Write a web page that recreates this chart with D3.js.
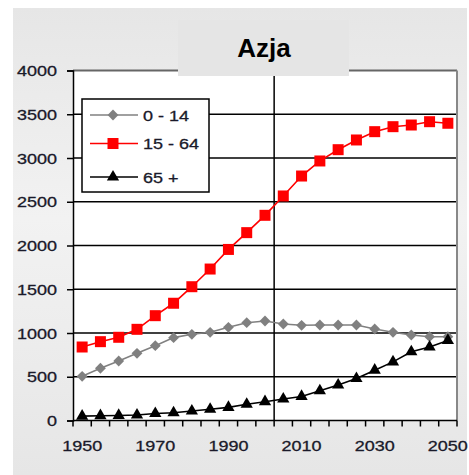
<!DOCTYPE html>
<html>
<head>
<meta charset="utf-8">
<script src="https://cdn.jsdelivr.net/npm/d3@7/dist/d3.min.js"></script>
<style>
  html, body { margin: 0; padding: 0; background: #ffffff; }
  svg { display: block; }
  text { font-family: "Liberation Sans", Arial, sans-serif; }
</style>
</head>
<body>
<script>
// Asia population by age group (millions), 1950–2050
const years = [1950,1955,1960,1965,1970,1975,1980,1985,1990,1995,2000,
               2005,2010,2015,2020,2025,2030,2035,2040,2045,2050];
const age0to14  = [505,597,680,768,855,947,985,1008,1065,1118,1137,
                   1103,1088,1091,1091,1091,1046,1008,977,958,958];
const age15to64 = [840,901,951,1042,1198,1340,1529,1731,1955,2147,2345,
                   2566,2794,2966,3095,3206,3301,3358,3377,3415,3397];
const age65plus = [50,55,58,62,80,88,108,128,150,185,215,
                   245,275,340,405,480,575,670,785,840,915];
const yTicks = [0,500,1000,1500,2000,2500,3000,3500,4000];
const xLabelYears = [1950,1970,1990,2010,2030,2050];
const seriesNames = ["0 - 14","15 - 64","65 +"];
const title = "Azja";

const W = 469, H = 475;
const plot = {left: 73, right: 457, top: 70.5, bottom: 420.5};
const stretch = 1.2;

const svg = d3.select("body").append("svg").attr("width", W).attr("height", H);

// Panel background with a soft vertical gradient
const defs = svg.append("defs");
const grad = defs.append("linearGradient").attr("id","panelGrad")
  .attr("x1",0).attr("y1",0).attr("x2",0).attr("y2",1);
grad.append("stop").attr("offset","0%").attr("stop-color","#e6e6e6");
grad.append("stop").attr("offset","45%").attr("stop-color","#f2f2f2");
grad.append("stop").attr("offset","100%").attr("stop-color","#e6e6e6");
svg.append("rect").attr("x",13).attr("y",8).attr("width",454).attr("height",467)
  .attr("fill","url(#panelGrad)");

const x = d3.scaleBand().domain(years).range([plot.left, plot.right]).paddingInner(0).paddingOuter(0);
const cx = d => x(d) + x.bandwidth() / 2;
const y = d3.scaleLinear().domain([0, 4000]).range([plot.bottom, plot.top]);

// Plot area
svg.append("rect").attr("x",plot.left).attr("y",plot.top)
  .attr("width",plot.right-plot.left).attr("height",plot.bottom-plot.top).attr("fill","#ffffff");

// Horizontal gridlines
svg.append("g").selectAll("line").data(yTicks.filter(v => v > 0 && v < 4000)).join("line")
  .attr("x1",plot.left).attr("x2",plot.right)
  .attr("y1",d => y(d)).attr("y2",d => y(d))
  .attr("stroke","#000").attr("stroke-width",1.5);

// Plot border (top and right)
svg.append("line").attr("x1",plot.left).attr("x2",plot.right).attr("y1",plot.top).attr("y2",plot.top)
  .attr("stroke","#666").attr("stroke-width",2);
svg.append("line").attr("x1",plot.right).attr("x2",plot.right).attr("y1",plot.top).attr("y2",plot.bottom)
  .attr("stroke","#888").attr("stroke-width",2);

// Vertical divider between 2000 and 2005
svg.append("line").attr("x1",x(2005)).attr("x2",x(2005)).attr("y1",plot.top).attr("y2",plot.bottom)
  .attr("stroke","#000").attr("stroke-width",1.5);

// Y axis
const yAxis = d3.axisLeft(y).tickValues(yTicks).tickSize(6).tickFormat(d3.format("d"));
const gy = svg.append("g").attr("transform",`translate(${plot.left},0)`).call(yAxis);
gy.select(".domain").attr("stroke","#000").attr("stroke-width",1.5);
gy.selectAll(".tick line").attr("stroke","#000").attr("stroke-width",1.5);
gy.selectAll(".tick text").remove();
svg.append("g").selectAll("text").data(yTicks).join("text")
  .attr("transform",d => `translate(57,${y(d)+5.5}) scale(${stretch},1)`)
  .attr("text-anchor","end").attr("font-size",15).attr("fill","#1a1a2a")
  .attr("stroke","#1a1a2a").attr("stroke-width",0.3)
  .text(d => d);

// X axis: ticks on every category boundary
const bounds = years.map(d => x(d)).concat([plot.right]);
svg.append("line").attr("x1",plot.left).attr("x2",plot.right).attr("y1",plot.bottom).attr("y2",plot.bottom)
  .attr("stroke","#000").attr("stroke-width",1.5);
svg.append("g").selectAll("line").data(bounds).join("line")
  .attr("x1",d => d).attr("x2",d => d).attr("y1",plot.bottom).attr("y2",plot.bottom+6)
  .attr("stroke","#000").attr("stroke-width",1.5);
svg.append("g").selectAll("text").data(xLabelYears).join("text")
  .attr("transform",d => `translate(${cx(d)},${451}) scale(${stretch},1)`)
  .attr("text-anchor","middle").attr("font-size",15).attr("fill","#1a1a2a")
  .attr("stroke","#1a1a2a").attr("stroke-width",0.3)
  .text(d => d);

// Series
const line = d3.line().x(d => cx(d[0])).y(d => y(d[1]));
const series = [
  {name: seriesNames[0], values: age0to14, color: "#808080", marker: "diamond"},
  {name: seriesNames[1], values: age15to64, color: "#ff0000", marker: "square"},
  {name: seriesNames[2], values: age65plus, color: "#000000", marker: "triangle"}
];
const markerPath = {
  diamond: d3.symbol(d3.symbolDiamond2, 75)(),
  square: d3.symbol(d3.symbolSquare, 121)(),
  triangle: d3.symbol(d3.symbolTriangle, 65)()
};

series.forEach(s => {
  const pts = years.map((yr,i) => [yr, s.values[i]]);
  const g = svg.append("g");
  g.append("path").datum(pts).attr("d",line).attr("fill","none")
    .attr("stroke",s.color).attr("stroke-width",1.6);
  g.selectAll("path.m").data(pts).join("path").attr("class","m")
    .attr("d",markerPath[s.marker])
    .attr("transform",d => `translate(${cx(d[0])},${y(d[1])})`)
    .attr("fill",s.color);
});

// Legend
const leg = svg.append("g");
leg.append("rect").attr("x",82).attr("y",99).attr("width",127).attr("height",93)
  .attr("fill","#ffffff").attr("stroke","#000").attr("stroke-width",1.5);
const rowsY = [115, 143.5, 177];
series.forEach((s,i) => {
  leg.append("line").attr("x1",90).attr("x2",138).attr("y1",rowsY[i]).attr("y2",rowsY[i])
    .attr("stroke",s.color).attr("stroke-width",1.6);
  leg.append("path").attr("d",markerPath[s.marker])
    .attr("transform",`translate(113,${rowsY[i]})`).attr("fill",s.color);
  leg.append("text").attr("transform",`translate(143,${rowsY[i]+5.5}) scale(${stretch},1)`)
    .attr("font-size",15).attr("fill","#1a1a2a")
    .attr("stroke","#1a1a2a").attr("stroke-width",0.3).text(s.name);
});

// Title box
svg.append("rect").attr("x",178).attr("y",20).attr("width",171).attr("height",56).attr("fill","#e5e5e5");
svg.append("text").attr("x",264).attr("y",57).attr("text-anchor","middle")
  .attr("font-size",26).attr("font-weight","bold").attr("fill","#000").text(title);
</script>
</body>
</html>
